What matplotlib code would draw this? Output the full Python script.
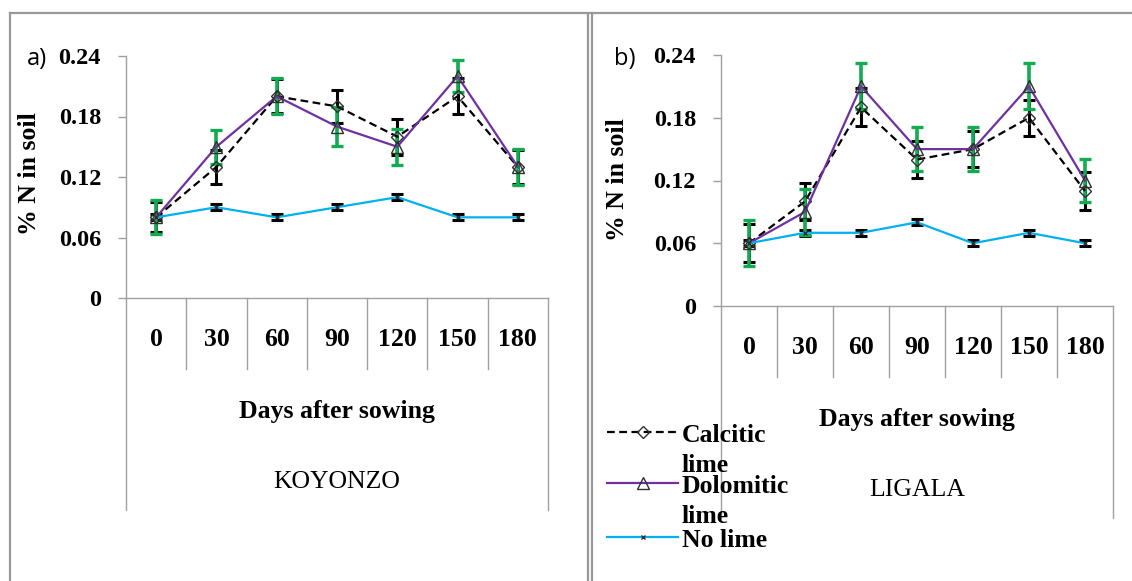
import matplotlib
matplotlib.use("Agg")
import matplotlib.pyplot as plt
import matplotlib.transforms as mtransforms
from matplotlib.lines import Line2D

# ---------------- data ----------------
days = ['0', '30', '60', '90', '120', '150', '180']
series_names = ['Calcitic\nlime', 'Dolomitic\nlime', 'No lime']

koy_calcitic = [0.08, 0.13, 0.20, 0.19, 0.16, 0.20, 0.13]
koy_calcitic_err = [0.015, 0.017, 0.017, 0.016, 0.018, 0.018, 0.017]
koy_dolomitic = [0.08, 0.15, 0.20, 0.17, 0.15, 0.22, 0.13]
koy_dolomitic_err = [0.017, 0.017, 0.018, 0.019, 0.018, 0.016, 0.018]
koy_nolime = [0.08, 0.09, 0.08, 0.09, 0.10, 0.08, 0.08]
koy_nolime_err = [0.003, 0.003, 0.003, 0.003, 0.003, 0.003, 0.003]

lig_calcitic = [0.06, 0.10, 0.19, 0.14, 0.15, 0.18, 0.11]
lig_calcitic_err = [0.018, 0.018, 0.018, 0.018, 0.017, 0.017, 0.018]
lig_dolomitic = [0.06, 0.09, 0.21, 0.15, 0.15, 0.21, 0.12]
lig_dolomitic_err = [0.022, 0.022, 0.022, 0.021, 0.021, 0.022, 0.021]
lig_nolime = [0.06, 0.07, 0.07, 0.08, 0.06, 0.07, 0.06]
lig_nolime_err = [0.003, 0.003, 0.003, 0.003, 0.003, 0.003, 0.003]

yticks = [0, 0.06, 0.12, 0.18, 0.24]
yticklabels = ['0', '0.06', '0.12', '0.18', '0.24']
panel_letters = ['a)', 'b)']
sites = ['KOYONZO', 'LIGALA']
xlabel = 'Days after sowing'
ylabel = '% N in soil'

# ---------------- style ----------------
W, H = 1132, 581
SERIF = ['Liberation Serif', 'DejaVu Serif']
GRAY = '#a0a0a0'
C_CAL = 'black'
C_DOL = '#7030a0'
C_NO = '#00b0f0'
C_GREEN = '#12ab50'
FS_TICK = 17.5
FS_TXT = 18.5

fig = plt.figure(figsize=(W / 100, H / 100), dpi=100)


def fx(px):
    return px / W


def fy(py):
    return 1 - py / H


# panel frame lines
frame_kw = dict(transform=fig.transFigure, color='#999999', lw=1.6)
fig.add_artist(Line2D([fx(10), 1], [fy(12.5), fy(12.5)], **frame_kw))
fig.add_artist(Line2D([fx(10), fx(10)], [fy(12.5), 0], **frame_kw))
fig.add_artist(Line2D([fx(588), fx(588)], [fy(12.5), 0], **frame_kw))
fig.add_artist(Line2D([fx(592), fx(592)], [fy(12.5), 0], **frame_kw))

# axes geometry in pixels: (left, top, right, bottom)
geoms = [(126, 56, 548, 298), (721, 55, 1113, 306)]
axes = []
for (l, t, r, b) in geoms:
    ax = fig.add_axes([fx(l), fy(b), (r - l) / W, (b - t) / H])
    axes.append(ax)

datasets = [
    (koy_calcitic, koy_calcitic_err, koy_dolomitic, koy_dolomitic_err, koy_nolime, koy_nolime_err),
    (lig_calcitic, lig_calcitic_err, lig_dolomitic, lig_dolomitic_err, lig_nolime, lig_nolime_err),
]

for k, (ax, geom, data) in enumerate(zip(axes, geoms, datasets)):
    cal, cal_e, dol, dol_e, nol, nol_e = data
    n = len(days)
    xs = [i + 0.5 for i in range(n)]
    axh = geom[3] - geom[1]

    ax.set_xlim(0, n)
    ax.set_ylim(0, 0.24)

    # error bars
    ax.errorbar(xs, cal, yerr=cal_e, fmt='none', ecolor='black', elinewidth=2.2,
                capsize=4.3, capthick=2.2, zorder=3, clip_on=False)
    ax.errorbar(xs, dol, yerr=dol_e, fmt='none', ecolor=C_GREEN, elinewidth=2.6,
                capsize=4.5, capthick=2.4, zorder=4, clip_on=False)
    ax.errorbar(xs, nol, yerr=nol_e, fmt='none', ecolor='black', elinewidth=2.0,
                capsize=4.0, capthick=2.2, zorder=3, clip_on=False)

    # lines
    ax.plot(xs, cal, color=C_CAL, lw=1.6, ls=(0, (3.5, 2)), marker='D', ms=6,
            mfc='none', mec='#303030', mew=1.0, zorder=5, clip_on=False)
    ax.plot(xs, dol, color=C_DOL, lw=1.6, marker='^', ms=9,
            mfc='none', mec='#303030', mew=1.0, zorder=5, clip_on=False)
    ax.plot(xs, nol, color=C_NO, lw=1.6, marker='x', ms=3.5,
            mec='#303030', mew=1.0, zorder=5, clip_on=False)

    # y axis
    ax.set_yticks(yticks)
    ax.set_yticklabels(yticklabels, fontfamily=SERIF, fontweight='bold', fontsize=FS_TICK)
    ax.tick_params(axis='y', length=6, width=1.0, color=GRAY, pad=12)
    ax.set_xticks([])
    for s in ['top', 'right']:
        ax.spines[s].set_visible(False)
    for s in ['left', 'bottom']:
        ax.spines[s].set_color(GRAY)
        ax.spines[s].set_linewidth(1.0)

    # multi-level category axis below
    xt = ax.get_xaxis_transform()

    def off(dy):
        return mtransforms.offset_copy(xt, fig=fig, x=0, y=-dy, units='dots')

    for i in range(1, n):
        ax.plot([i, i], [0, -71 / axh], transform=xt, color=GRAY, lw=1.0, clip_on=False)
    for xb in (0, n):
        ax.plot([xb, xb], [0, -212 / axh], transform=xt, color=GRAY, lw=1.0, clip_on=False)
    for x, lab in zip(xs, days):
        ax.text(x, 0, lab, transform=off(48), ha='center', va='baseline',
                fontfamily=SERIF, fontweight='bold', fontsize=FS_TXT)
    ax.text(n / 2, 0, xlabel, transform=off(120), ha='center', va='baseline',
            fontfamily=SERIF, fontweight='bold', fontsize=FS_TXT)
    ax.text(n / 2, 0, sites[k], transform=off(190), ha='center', va='baseline',
            fontfamily=SERIF, fontsize=FS_TXT)

# y labels and panel letters
fig.text(fx(29), fy(174), ylabel, rotation=90, ha='center', va='center',
         fontfamily=SERIF, fontweight='bold', fontsize=FS_TXT)
fig.text(fx(617), fy(180), ylabel, rotation=90, ha='center', va='center',
         fontfamily=SERIF, fontweight='bold', fontsize=FS_TXT)
fig.text(fx(27), fy(65), panel_letters[0], ha='left', va='baseline',
         fontfamily=['Open Sans', 'DejaVu Sans'], fontsize=17)
fig.text(fx(614), fy(65), panel_letters[1], ha='left', va='baseline',
         fontfamily=['Open Sans', 'DejaVu Sans'], fontsize=17)

# legend (drawn manually, Excel style with wrapped labels)
leg_styles = [
    dict(color=C_CAL, ls=(0, (3.5, 2)), marker='D', ms=6, mfc='none', mec='#303030'),
    dict(color=C_DOL, ls='-', marker='^', ms=9, mfc='none', mec='#303030'),
    dict(color=C_NO, ls='-', marker='x', ms=3.5, mec='#303030'),
]
leg_y = [432, 483, 537]
for name, st, y in zip(series_names, leg_styles, leg_y):
    fig.add_artist(Line2D([fx(607), fx(678)], [fy(y), fy(y)], transform=fig.transFigure,
                          color=st['color'], ls=st['ls'], lw=1.6))
    fig.add_artist(Line2D([fx(642.5)], [fy(y)], transform=fig.transFigure, ls='none',
                          marker=st['marker'], ms=st['ms'], mfc=st.get('mfc', 'none'),
                          mec=st['mec'], mew=1.0))
    for j, line in enumerate(name.split('\n')):
        fig.text(fx(682), fy(y + 10 + 30 * j), line, ha='left', va='baseline',
                 fontfamily=SERIF, fontweight='bold', fontsize=FS_TXT)

fig.savefig('out.png', dpi=100)
